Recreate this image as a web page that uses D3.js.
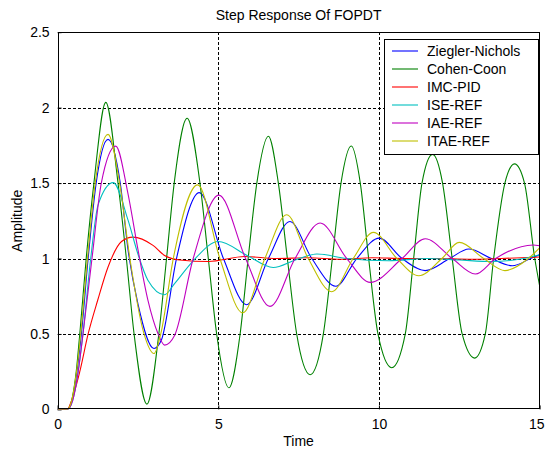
<!DOCTYPE html>
<html>
<head>
<meta charset="utf-8">
<script src="https://cdn.jsdelivr.net/npm/d3@7"></script>
<style>
  html, body { margin: 0; padding: 0; background: #fff; }
  svg { display: block; font-family: "Liberation Sans", Arial, sans-serif; }
</style>
</head>
<body>
<svg id="chart" width="545" height="451"></svg>
<script>
// Step responses of a first-order-plus-dead-time loop under several PID tunings.
// Each series is a list of [time, amplitude] samples.
const zieglerNichols = [
  [0,0],[0.3,0],[0.45,0.06],[0.6,0.25],[0.74,0.5],[0.95,1.0],[1.2,1.5],[1.57,1.79],
  [1.95,1.5],[2.19,1.06],[2.5,0.70],[3.0,0.404],[3.23,0.46],[3.70,1.0],[4.41,1.437],
  [5.16,1.0],[5.88,0.694],[6.56,1.0],[7.23,1.245],[7.91,1.0],[8.66,0.816],[9.31,1.0],
  [10.01,1.135],[10.72,1.0],[11.44,0.92],[12.2,1.0],[12.8,1.063],[13.5,1.0],
  [14.15,0.952],[14.72,1.0],[15,1.025]
];
const cohenCoon = [
  [0,0],[0.3,0],[0.45,0.07],[0.58,0.25],[0.69,0.5],[0.89,1.0],[1.13,1.5],[1.5,2.035],
  [1.88,1.5],[2.14,1.0],[2.38,0.5],[2.78,0.035],[3.15,0.5],[3.39,1.0],[3.64,1.52],
  [4.03,1.93],[4.43,1.5],[4.69,1.0],[4.95,0.5],[5.33,0.143],[5.68,0.5],[5.93,1.0],
  [6.20,1.5],[6.56,1.81],[6.87,1.5],[7.15,1.0],[7.44,0.5],[7.86,0.23],[8.27,0.5],
  [8.55,1.0],[8.82,1.5],[9.14,1.746],[9.42,1.5],[9.68,1.0],[9.97,0.5],[10.40,0.276],
  [10.82,0.5],[11.08,1.0],[11.34,1.5],[11.67,1.69],[11.98,1.5],[12.28,1.0],[12.59,0.5],
  [12.98,0.34],[13.31,0.5],[13.57,1.0],[13.92,1.5],[14.22,1.627],[14.53,1.5],
  [14.85,1.0],[15,0.82]
];
const imcPid = [
  [0,0],[0.3,0],[0.43,0.055],[0.69,0.25],[0.95,0.5],[1.25,0.725],[1.57,0.944],
  [1.99,1.113],[2.34,1.142],[2.97,1.087],[3.33,1.02],[3.8,0.99],[4.69,0.98],
  [5.83,1.013],[6.8,1.0],[7.8,1.005],[8.8,0.995],[9.8,1.005],[10.8,1.0],[11.8,1.0],
  [12.8,0.995],[13.8,1.0],[15,1.01]
];
const iseRef = [
  [0,0],[0.3,0],[0.47,0.06],[0.64,0.25],[0.79,0.5],[1.03,1.0],[1.26,1.356],
  [1.73,1.503],[2.19,1.256],[2.5,1.03],[2.81,0.856],[3.33,0.76],[3.64,0.834],
  [4.2,0.98],[5.0,1.113],[5.9,1.02],[6.71,0.94],[7.4,0.99],[8.07,1.03],[9.0,1.0],
  [10.3,0.985],[11.5,1.0],[12.5,0.99],[13.5,0.98],[14.5,1.0],[15,1.025]
];
const iaeRef = [
  [0,0],[0.3,0],[0.47,0.06],[0.64,0.25],[0.79,0.5],[1.07,1.0],[1.36,1.5],[1.81,1.745],
  [2.19,1.43],[2.5,1.06],[2.81,0.725],[3.12,0.505],[3.33,0.426],[3.64,0.49],
  [4.22,1.0],[5.02,1.42],[5.85,1.0],[6.61,0.683],[7.39,1.0],[8.17,1.235],[9.0,1.0],
  [9.73,0.842],[10.72,1.0],[11.44,1.131],[12.28,1.0],[13.0,0.897],[13.63,1.0],
  [14.8,1.09],[15,1.085]
];
const itaeRef = [
  [0,0],[0.3,0],[0.45,0.07],[0.59,0.25],[0.72,0.5],[0.93,1.0],[1.17,1.5],[1.57,1.823],
  [1.93,1.5],[2.25,1.0],[2.69,0.5],[3.0,0.37],[3.21,0.5],[3.6,1.0],[4.36,1.488],
  [5.05,1.0],[5.76,0.64],[6.45,1.0],[7.13,1.29],[7.8,1.0],[8.53,0.78],[9.2,1.0],
  [9.83,1.173],[10.56,1.0],[11.24,0.886],[11.96,1.0],[12.5,1.107],[13.26,1.0],
  [13.92,0.92],[14.65,1.0],[15,1.07]
];

const seriesNames = ["Ziegler-Nichols", "Cohen-Coon", "IMC-PID", "ISE-REF", "IAE-REF", "ITAE-REF"];
const seriesColors = ["#0000ff", "#008000", "#ff0000", "#00bfbf", "#bf00bf", "#bfbf00"];
const seriesData = [zieglerNichols, cohenCoon, imcPid, iseRef, iaeRef, itaeRef];

const xTicks = [0, 5, 10, 15];
const yTicks = [0, 0.5, 1, 1.5, 2, 2.5];

const svg = d3.select("#chart");
const W = 545, H = 451;
const margin = { left: 57.6, right: 5.4, top: 32.2, bottom: 41.6 };
const plotW = W - margin.left - margin.right;
const plotH = H - margin.top - margin.bottom;

const x = d3.scaleLinear().domain([0, 15]).range([margin.left, margin.left + plotW]);
const y = d3.scaleLinear().domain([0, 2.5]).range([margin.top + plotH, margin.top]);

svg.append("rect").attr("width", W).attr("height", H).attr("fill", "#fff");

svg.append("defs").append("clipPath").attr("id", "plotClip")
  .append("rect").attr("x", margin.left).attr("y", margin.top)
  .attr("width", plotW).attr("height", plotH);

// dotted grid
const grid = svg.append("g").attr("stroke", "#000").attr("stroke-width", 1)
  .attr("stroke-dasharray", "3,2").attr("shape-rendering", "crispEdges");
grid.selectAll("line.gx").data(xTicks.slice(1, -1)).join("line")
  .attr("x1", d => Math.round(x(d)) + 0.5).attr("x2", d => Math.round(x(d)) + 0.5)
  .attr("y1", margin.top).attr("y2", margin.top + plotH);
grid.selectAll("line.gy").data(yTicks.slice(1, -1)).join("line")
  .attr("y1", d => Math.round(y(d)) + 0.5).attr("y2", d => Math.round(y(d)) + 0.5)
  .attr("x1", margin.left).attr("x2", margin.left + plotW);

// axes with inward ticks
const fontSize = 14;
const xAxis = d3.axisBottom(x).tickValues(xTicks).tickSize(-4).tickPadding(8).tickFormat(d3.format("d"));
const yAxis = d3.axisLeft(y).tickValues(yTicks).tickSize(-4).tickPadding(8).tickFormat(d => d);
const gx = svg.append("g").attr("transform", `translate(0,${margin.top + plotH})`).call(xAxis);
const gy = svg.append("g").attr("transform", `translate(${margin.left},0)`).call(yAxis);
[gx, gy].forEach(g => {
  g.select(".domain").remove();
  g.selectAll("text").attr("font-size", fontSize).attr("fill", "#000")
    .attr("font-family", "Liberation Sans, Arial, sans-serif");
  g.selectAll("line").attr("stroke", "#000");
});
gx.selectAll("text").attr("dy", "0.85em");
// the last label sits at the right edge of the page; keep it inside
gx.selectAll(".tick").filter(d => d === 15).select("text")
  .attr("text-anchor", "end").attr("x", W - 1 - x(15));

// curves
const line = d3.line().x(d => x(d[0])).y(d => y(d[1])).curve(d3.curveMonotoneX);
const curves = svg.append("g").attr("clip-path", "url(#plotClip)");
seriesData.forEach((s, i) => {
  curves.append("path").datum(s).attr("d", line).attr("fill", "none")
    .attr("stroke", seriesColors[i]).attr("stroke-width", 1.1);
});

// axes box
svg.append("rect").attr("x", margin.left + 0.5).attr("y", margin.top + 0.5)
  .attr("width", plotW - 1).attr("height", plotH - 1)
  .attr("fill", "none").attr("stroke", "#000").attr("stroke-width", 1)
  .attr("shape-rendering", "crispEdges");

// titles
svg.append("text").attr("x", margin.left + plotW / 2).attr("y", 20)
  .attr("text-anchor", "middle").attr("font-size", fontSize).text("Step Response Of FOPDT");
svg.append("text").attr("x", margin.left + plotW / 2).attr("y", 446)
  .attr("text-anchor", "middle").attr("font-size", fontSize).text("Time");
svg.append("text").attr("transform", `translate(22,${margin.top + plotH / 2}) rotate(-90)`)
  .attr("text-anchor", "middle").attr("font-size", fontSize).text("Amplitude");

// legend
const lg = svg.append("g").attr("transform", "translate(384,39)");
lg.append("rect").attr("x", 0.5).attr("y", 0.5).attr("width", 154).attr("height", 115)
  .attr("fill", "#fff").attr("stroke", "#000").attr("shape-rendering", "crispEdges");
const rows = lg.selectAll("g.row").data(seriesNames).join("g")
  .attr("transform", (d, i) => `translate(0,${12 + i * 18})`);
rows.append("line").attr("x1", 8).attr("x2", 34).attr("y1", 0).attr("y2", 0)
  .attr("stroke", (d, i) => seriesColors[i]).attr("stroke-width", 1.1);
rows.append("text").attr("x", 43).attr("y", 0).attr("dy", "0.35em")
  .attr("font-size", fontSize).text(d => d);
</script>
</body>
</html>
